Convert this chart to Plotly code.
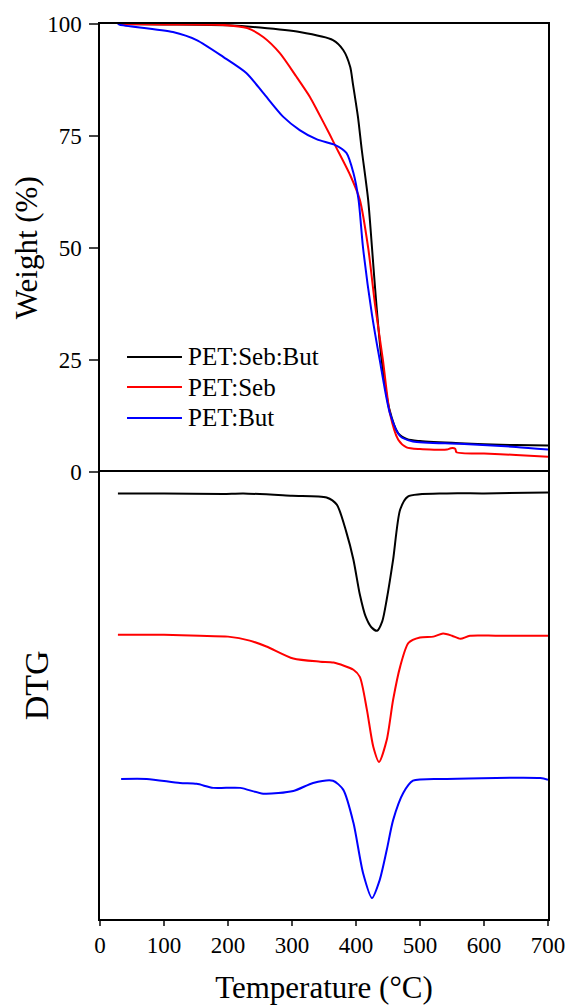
import plotly.graph_objects as go

# ---- TGA (weight %) ----
T_sb = [28, 100, 200, 250, 312, 364, 380, 391, 395, 403, 409, 419, 425, 432, 440, 452, 466, 480, 500, 562, 600, 650, 700]
W_sb = [100, 99.9, 99.7, 99.2, 98.2, 96.4, 94.2, 90.4, 86.8, 79.3, 71.9, 60.7, 50, 37, 25, 14, 8.5, 7.2, 6.8, 6.3, 6.1, 5.9, 5.8]

T_s = [28, 100, 192, 230, 255, 281, 307, 328, 339, 359, 367, 391, 406, 419, 430, 442, 453, 466, 479, 500, 542, 548, 555, 557, 600, 650, 700]
W_s = [100, 99.9, 99.8, 99.1, 97.1, 93.5, 88.2, 83.7, 80.8, 75.3, 73, 66.2, 60.7, 50, 37, 25, 13, 7.1, 5.4, 5.0, 4.9, 5.2, 5.1, 4.3, 4.0, 3.7, 3.3]

T_b = [28, 31, 114, 151, 193, 229, 255, 286, 312, 339, 367, 385, 396, 404, 411, 425, 437, 453, 469, 489, 562, 650, 700]
W_b = [100, 99.8, 98.2, 96.4, 92.6, 89, 84.6, 79.3, 76.3, 74.2, 73, 71.2, 66.7, 60.7, 50, 35, 25, 13, 7.9, 6.7, 6.2, 5.5, 4.9]

# ---- DTG (arbitrary units, curves offset) ----
DT_sb = [28, 100, 192, 224, 300, 354, 370, 385, 396, 406, 415, 424, 433, 441, 448, 458, 469, 481, 542, 600, 700]
D_sb = [95.1, 95.1, 95.0, 95.1, 94.6, 94.2, 92.6, 86.4, 80.3, 72.5, 67.6, 65.2, 64.4, 66.5, 71.4, 80.3, 91.5, 94.4, 95.1, 95.1, 95.3]

DT_s = [28, 100, 156, 200, 234, 260, 302, 344, 365, 396, 406, 417, 427, 436, 448, 458, 469, 482, 500, 521, 536, 550, 563, 578, 620, 700]
D_s = [63.5, 63.5, 63.3, 63.1, 62.2, 60.9, 58.2, 57.5, 57.3, 55.7, 54.1, 46.8, 38.5, 35.1, 40.0, 49.0, 56.4, 61.7, 62.9, 63.1, 63.8, 63.3, 62.6, 63.3, 63.3, 63.3]

DT_b = [33, 73, 125, 151, 177, 219, 255, 302, 333, 364, 380, 396, 411, 425, 437, 448, 458, 474, 489, 542, 688, 700]
D_b = [31.3, 31.3, 30.4, 30.2, 29.3, 29.3, 28.0, 28.6, 30.4, 30.9, 28.9, 21.5, 10.3, 4.7, 8.7, 15.4, 22.1, 28.2, 30.9, 31.3, 31.5, 31.1]

names = ["PET:Seb:But", "PET:Seb", "PET:But"]
colors = ["#000000", "#ff0000", "#0000ff"]

FONT = "Liberation Serif, Times New Roman, serif"

fig = go.Figure()
for T, W, n, c in zip([T_sb, T_s, T_b], [W_sb, W_s, W_b], names, colors):
    fig.add_trace(go.Scatter(x=T, y=W, mode="lines", name=n, showlegend=False,
                             line=dict(color=c, width=2, shape="spline", smoothing=0.7),
                             xaxis="x", yaxis="y"))
for T, D, n, c in zip([DT_sb, DT_s, DT_b], [D_sb, D_s, D_b], names, colors):
    fig.add_trace(go.Scatter(x=T, y=D, mode="lines", name=n, showlegend=False,
                             line=dict(color=c, width=2, shape="spline", smoothing=0.7),
                             xaxis="x2", yaxis="y2"))

# manual legend (line samples + labels) placed in paper coordinates
leg_y = [0.628, 0.5944, 0.5598]
shapes = []
annotations = []
for n, c, yy in zip(names, colors, leg_y):
    shapes.append(dict(type="line", xref="paper", yref="paper", x0=0.0603, x1=0.183,
                       y0=yy, y1=yy, line=dict(color=c, width=2)))
    annotations.append(dict(text=n, xref="paper", yref="paper", x=0.1920, y=yy,
                            xanchor="left", yanchor="middle", showarrow=False,
                            font=dict(family="Liberation Serif", size=25, color="black")))
annotations.append(dict(text="DTG", xref="paper", yref="paper", x=-0.14, y=0.2615,
                        xanchor="center", yanchor="middle", textangle=-90, showarrow=False,
                        font=dict(family="Liberation Serif", size=34, color="black")))

axis_common = dict(showline=True, linecolor="black", linewidth=1.5,
                   showgrid=False, zeroline=False, automargin=False)

fig.update_layout(
    width=568, height=1006,
    margin=dict(l=100, r=20, t=24, b=87),
    plot_bgcolor="white", paper_bgcolor="white",
    font=dict(family=FONT, color="black", size=23),
    showlegend=False,
    shapes=shapes, annotations=annotations,
    xaxis=dict(domain=[0, 1], range=[0, 700], anchor="y", side="top", mirror=False,
               showticklabels=False, ticks="", **axis_common),
    yaxis=dict(domain=[0.5, 1], range=[0, 100], anchor="x", mirror=True,
               tickvals=[0, 25, 50, 75, 100], ticks="outside", ticklen=9, tickwidth=1.5,
               ticklabelstandoff=3,
               tickfont=dict(size=23, family=FONT),
               title=dict(text="Weight (%)", font=dict(size=31, family=FONT), standoff=0),
               **axis_common),
    xaxis2=dict(domain=[0, 1], range=[0, 700], anchor="y2", mirror=True,
                tickvals=[0, 100, 200, 300, 400, 500, 600, 700], ticks="outside",
                ticklen=5, tickwidth=1.5, tickfont=dict(size=23, family=FONT),
                title=dict(text="Temperature (°C)", font=dict(size=31, family=FONT), standoff=19),
                **axis_common),
    yaxis2=dict(domain=[0, 0.5], range=[0, 100], anchor="x2", mirror=True,
                showticklabels=False, ticks="", **axis_common),
)

fig.write_html("out.html")
